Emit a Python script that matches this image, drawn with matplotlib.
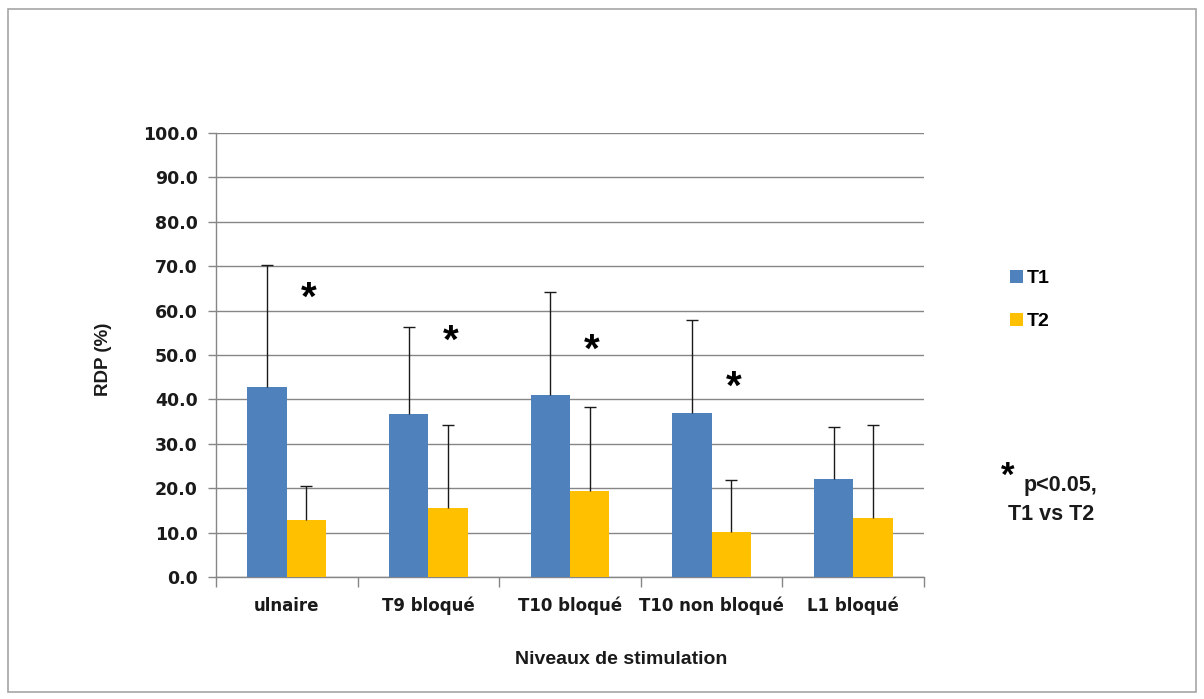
import matplotlib
matplotlib.use("Agg")
import matplotlib.pyplot as plt
from matplotlib.patches import Rectangle
import numpy as np

categories = ["ulnaire", "T9 bloqué", "T10 bloqué", "T10 non bloqué", "L1 bloqué"]
t1_values = [42.7, 36.7, 40.9, 37.0, 22.2]
t1_err_top = [70.2, 56.2, 64.1, 57.9, 33.8]
t2_values = [12.9, 15.5, 19.3, 10.3, 13.3]
t2_err_top = [20.6, 34.2, 38.4, 21.9, 34.2]
star_y = [64.0, 54.2, 52.2, 43.9]
series_names = ["T1", "T2"]
yticks = [0, 10, 20, 30, 40, 50, 60, 70, 80, 90, 100]

W, H = 1204, 699
fig = plt.figure(figsize=(W / 100, H / 100), dpi=100)
fig.patch.set_facecolor("white")
fig.add_artist(Rectangle((8 / W, 1 - 692 / H), (1196 - 8) / W, (692 - 9) / H,
                         transform=fig.transFigure, fill=False,
                         edgecolor="#a6a6a6", linewidth=1.2))

ax = fig.add_axes([216 / W, 1 - 577.3 / H, (924 - 216) / W, (577.3 - 132.7) / H])

x = np.arange(len(categories))
bw = 0.278
t1 = np.array(t1_values)
t2 = np.array(t2_values)
e1 = np.array(t1_err_top) - t1
e2 = np.array(t2_err_top) - t2

err_kw = dict(ecolor="#1a1a1a", elinewidth=1.0, capsize=4, capthick=1.0)
b1 = ax.bar(x - bw / 2, t1, bw, color="#4F81BD", label=series_names[0], zorder=3,
            yerr=[np.zeros_like(e1), e1], error_kw=err_kw)
b2 = ax.bar(x + bw / 2, t2, bw, color="#FFC000", label=series_names[1], zorder=3,
            yerr=[np.zeros_like(e2), e2], error_kw=err_kw)
# hide the zero-length lower caps (only upper error bars are shown)
for bars, vals in ((b1, t1), (b2, t2)):
    for cap in bars.errorbar.lines[1]:
        if np.allclose(cap.get_ydata(), vals):
            cap.set_visible(False)

for i, yv in enumerate(star_y):
    ax.annotate("*", xy=(i + 0.155, yv), xytext=(0, -4), textcoords="offset points",
                ha="center", va="center", fontsize=29, fontweight="bold",
                color="black", family="Liberation Sans", zorder=4)

ax.set_xlim(-0.5, len(categories) - 0.5)
ax.set_ylim(0, 100)
ax.set_yticks(yticks)
ax.set_yticklabels([f"{v:.1f}" for v in yticks])
ax.yaxis.grid(True, color="#868686", linewidth=1.0, zorder=0)
ax.set_axisbelow(True)

ax.set_xticks(np.arange(len(categories) + 1) - 0.5)
ax.set_xticklabels([])
ax.set_xticks(x, minor=True)
ax.set_xticklabels(categories, minor=True)
ax.tick_params(axis="x", which="major", length=7, color="#868686", width=1)
ax.tick_params(axis="x", which="minor", length=0, pad=14)
ax.tick_params(axis="y", length=6, color="#868686", width=1, pad=7)
for lbl in ax.get_yticklabels():
    lbl.set_fontsize(12.5)
for lbl in ax.get_xticklabels(minor=True):
    lbl.set_fontsize(12)
for lbl in ax.get_yticklabels() + ax.get_xticklabels(minor=True):
    lbl.set_fontweight("bold")
    lbl.set_family("DejaVu Sans")
    lbl.set_color("#1a1a1a")

for s in ["top", "right"]:
    ax.spines[s].set_visible(False)
for s in ["left", "bottom"]:
    ax.spines[s].set_color("#868686")
    ax.spines[s].set_linewidth(1.0)

lab_font = "Liberation Sans"
fig.text(621 / W, 1 - 659 / H, "Niveaux de stimulation", ha="center", va="center",
         fontsize=14, fontweight="bold", family=lab_font, color="#1a1a1a")
fig.text(103 / W, 1 - 359 / H, "RDP (%)", ha="center", va="center", rotation=90,
         fontsize=13.5, fontweight="bold", family=lab_font, color="#1a1a1a")

leg = ax.legend(loc="upper left", bbox_to_anchor=(996 / W, 1 - 256 / H),
                bbox_transform=fig.transFigure, frameon=False,
                handlelength=0.7, handleheight=0.7, handletextpad=0.2,
                labelspacing=1.3, borderpad=0.2,
                prop={"family": lab_font, "size": 14, "weight": "bold"})

fig.text(1007.5 / W, 1 - 476 / H, "*", ha="center", va="center", fontsize=25,
         fontweight="bold", family="Liberation Sans", color="black")
fig.text(1024 / W, 1 - 485 / H, "p<0.05,", ha="left", va="center", fontsize=15.5,
         fontweight="bold", family=lab_font, color="#1a1a1a")
fig.text(1008 / W, 1 - 515 / H, "T1 vs T2", ha="left", va="center", fontsize=15.5,
         fontweight="bold", family=lab_font, color="#1a1a1a")

fig.savefig("out.png", dpi=100, facecolor="white")
